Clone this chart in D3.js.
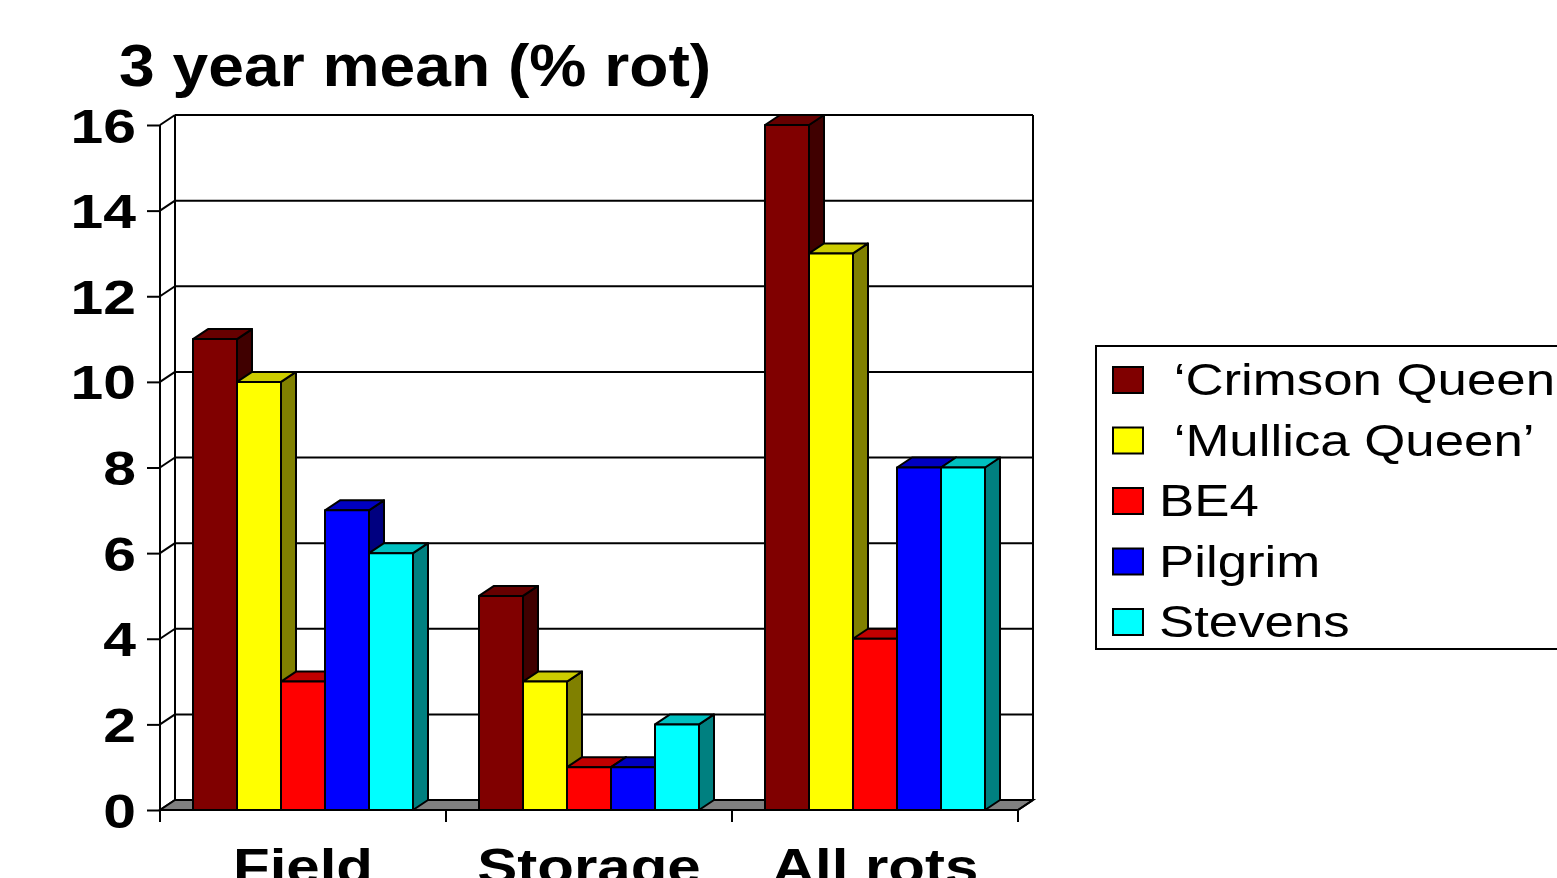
<!DOCTYPE html>
<html>
<head>
<meta charset="utf-8">
<script src="https://cdn.jsdelivr.net/npm/d3@7"></script>
<style>
  html, body { margin: 0; padding: 0; background: #fff; overflow: hidden; }
  svg { display: block; }
</style>
</head>
<body>
<svg id="chart" width="1557" height="878"></svg>
<script>
// Rot incidence by cultivar, averaged over three years
const categories = ["Field", "Storage", "All rots"];
const series = ["\u00a0\u2018Crimson Queen\u2019", "\u00a0\u2018Mullica Queen\u2019", "BE4", "Pilgrim", "Stevens"];
const crimsonQueen = [11, 5, 16];
const mullicaQueen = [10, 3, 13];
const be4 = [3, 1, 4];
const pilgrim = [7, 1, 8];
const stevens = [6, 2, 8];
const yTicks = [0, 2, 4, 6, 8, 10, 12, 14, 16];
const values = [crimsonQueen, mullicaQueen, be4, pilgrim, stevens];

// front, top and side shades for each series
const fronts = ["#800000", "#ffff00", "#ff0000", "#0000ff", "#00ffff"];
const tops   = ["#660000", "#cccc00", "#c00000", "#0000c0", "#00c0c0"];
const sides  = ["#400000", "#808000", "#800000", "#000080", "#008080"];

const svg = d3.select("#chart");
const FONT = "'Liberation Sans', Arial, sans-serif";

// plot geometry
const plotLeft = 160, plotRight = 1018, plotBottom = 810, plotTop = 125;
const DX = 15, DY = -10;  // depth offset of the 3-D box

const y = d3.scaleLinear().domain([0, 16]).range([plotBottom, plotTop]);
const x = d3.scaleBand().domain(categories).range([plotLeft, plotRight]).padding(0);
const inner = d3.scaleBand().domain(series.map((d, i) => i))
  .range([33, x.bandwidth() - 33]).padding(0);

// back wall gridlines and left wall diagonals
const grid = svg.append("g").attr("stroke", "#000").attr("stroke-width", 2).attr("fill", "none");
yTicks.forEach(v => {
  if (v > 0) {
    grid.append("line").attr("x1", plotLeft + DX).attr("x2", plotRight + DX)
      .attr("y1", y(v) + DY).attr("y2", y(v) + DY);
  }
  grid.append("line").attr("x1", plotLeft).attr("x2", plotLeft + DX)
    .attr("y1", y(v)).attr("y2", y(v) + DY);
});
// back wall frame
grid.append("line").attr("x1", plotLeft + DX).attr("x2", plotLeft + DX)
  .attr("y1", y(16) + DY).attr("y2", y(0) + DY);
grid.append("line").attr("x1", plotRight + DX).attr("x2", plotRight + DX)
  .attr("y1", y(16) + DY).attr("y2", y(0) + DY);

// floor
svg.append("path")
  .attr("d", `M${plotLeft},${y(0)} L${plotRight},${y(0)} L${plotRight + DX},${y(0) + DY} L${plotLeft + DX},${y(0) + DY} Z`)
  .attr("fill", "#808080").attr("stroke", "#000").attr("stroke-width", 2);

// 3-D columns, drawn left to right so each front hides the previous side
const bars = svg.append("g").attr("stroke", "#000").attr("stroke-width", 2).attr("stroke-linejoin", "round");
categories.forEach((cat, ci) => {
  series.forEach((s, si) => {
    const v = values[si][ci];
    const x0 = x(cat) + inner(si);
    const x1 = x0 + inner.bandwidth();
    const yt = y(v), yb = y(0);
    bars.append("path")
      .attr("d", `M${x1},${yb} L${x1 + DX},${yb + DY} L${x1 + DX},${yt + DY} L${x1},${yt} Z`)
      .attr("fill", sides[si]);
    bars.append("path")
      .attr("d", `M${x0},${yt} L${x0 + DX},${yt + DY} L${x1 + DX},${yt + DY} L${x1},${yt} Z`)
      .attr("fill", tops[si]);
    bars.append("rect")
      .attr("x", x0).attr("y", yt).attr("width", x1 - x0).attr("height", yb - yt)
      .attr("fill", fronts[si]);
  });
});

// y axis
const yAxis = svg.append("g").attr("transform", `translate(${plotLeft},0)`)
  .call(d3.axisLeft(y).tickValues(yTicks).tickSize(13).tickFormat(d3.format("d")));
yAxis.select(".domain").attr("stroke", "#000").attr("stroke-width", 2)
  .attr("d", `M0,${y(16)}V${y(0)}`);
yAxis.selectAll(".tick line").attr("stroke", "#000").attr("stroke-width", 2);
yAxis.selectAll(".tick text").each(function () {
  const t = d3.select(this);
  const label = t.text();
  t.attr("x", null).attr("dy", null)
    .attr("transform", "translate(-24,17) scale(1.2,1)")
    .attr("text-anchor", "end")
    .style("font-family", FONT).style("font-weight", "bold").style("font-size", "49px")
    .attr("fill", "#000").text(label);
});

// x axis line, band boundary ticks and category labels
const xAxis = svg.append("g").attr("stroke", "#000").attr("stroke-width", 2);
xAxis.append("line").attr("x1", plotLeft).attr("x2", plotRight).attr("y1", y(0)).attr("y2", y(0));
const bounds = categories.map(c => x(c)).concat([plotRight]);
bounds.forEach(b => {
  xAxis.append("line").attr("x1", b).attr("x2", b).attr("y1", y(0)).attr("y2", y(0) + 12);
});
svg.append("line").attr("x1", plotRight).attr("x2", plotRight + DX)
  .attr("y1", y(0)).attr("y2", y(0) + DY).attr("stroke", "#000").attr("stroke-width", 2);

svg.append("g").selectAll("text").data(categories).join("text")
  .attr("transform", d => `translate(${x(d) + x.bandwidth() / 2},884) scale(1.2,1)`)
  .attr("text-anchor", "middle")
  .style("font-family", FONT).style("font-weight", "bold").style("font-size", "50px")
  .text(d => d);

// title
svg.append("text")
  .attr("transform", "translate(119,86) scale(1.07,1)")
  .style("font-family", FONT).style("font-weight", "bold").style("font-size", "60px")
  .text("3 year mean (% rot)");

// legend
const legend = svg.append("g");
legend.append("rect").attr("x", 1096).attr("y", 346).attr("width", 480).attr("height", 303)
  .attr("fill", "#fff").attr("stroke", "#000").attr("stroke-width", 2);
const rows = legend.selectAll("g.row").data(series).join("g")
  .attr("class", "row")
  .attr("transform", (d, i) => `translate(0,${380 + i * 60.5})`);
rows.append("rect").attr("x", 1113).attr("y", -13).attr("width", 30).attr("height", 26)
  .attr("fill", (d, i) => fronts[i]).attr("stroke", "#000").attr("stroke-width", 2);
rows.append("text")
  .attr("transform", "translate(1159,15) scale(1.2,1)")
  .style("font-family", FONT).style("font-size", "44px")
  .text(d => d);
</script>
</body>
</html>
